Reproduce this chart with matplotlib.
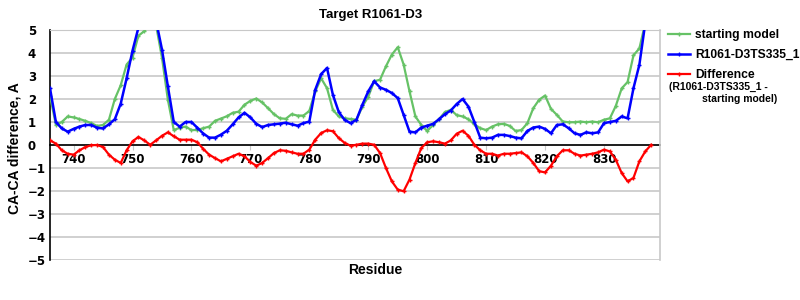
import numpy as np
import matplotlib
matplotlib.use("Agg")
import matplotlib.pyplot as plt

residues = list(range(736, 839))

starting_model = [
    2.14, 0.88, 1.0, 1.24, 1.2, 1.13, 1.05, 0.95, 0.83, 0.87,
    1.1, 2.0, 2.6, 3.5, 3.8, 4.75, 4.95, 5.3, 5.2, 3.8,
    1.97, 0.65, 0.75, 0.8, 0.65, 0.65, 0.73, 0.8, 1.05, 1.15,
    1.25, 1.4, 1.45, 1.75, 1.92, 2.02, 1.85, 1.6, 1.34, 1.16,
    1.14, 1.34, 1.28, 1.28, 1.48, 2.33, 2.9, 2.47, 1.53, 1.24,
    1.16, 1.13, 1.1, 1.67, 2.1, 2.77, 2.84, 3.42, 3.93, 4.25,
    3.5, 2.33, 1.24, 0.87, 0.61, 0.87, 1.12, 1.43, 1.53, 1.3,
    1.24, 1.12, 0.9, 0.73, 0.65, 0.8, 0.9, 0.92, 0.83, 0.61,
    0.65, 0.95, 1.6, 1.97, 2.15, 1.57, 1.31, 1.02, 0.99, 0.99,
    1.02, 0.99, 1.02, 0.99, 1.1, 1.16, 1.7, 2.46, 2.74, 3.9,
    4.2, 5.3, 5.6,
]

model_ts335 = [
    2.47, 1.0, 0.72, 0.58, 0.7, 0.8, 0.87, 0.87, 0.75, 0.72,
    0.9, 1.12, 1.8, 2.9, 4.1, 5.1, 5.15, 5.3, 5.4, 4.15,
    2.55, 1.0, 0.8, 1.0, 1.0, 0.75, 0.5, 0.32, 0.32, 0.45,
    0.62, 0.9, 1.2, 1.4, 1.2, 0.92, 0.78, 0.87, 0.9, 0.93,
    0.97, 0.9, 0.84, 0.95, 1.02, 2.4, 3.08, 3.35, 2.18, 1.43,
    1.09, 0.95, 1.1, 1.75, 2.33, 2.77, 2.5, 2.4, 2.26, 2.04,
    1.31, 0.58, 0.55, 0.76, 0.84, 0.92, 1.12, 1.34, 1.5, 1.78,
    2.0, 1.67, 1.0, 0.32, 0.29, 0.32, 0.44, 0.44, 0.39, 0.32,
    0.29, 0.61, 0.76, 0.8, 0.7, 0.51, 0.87, 0.9, 0.73, 0.51,
    0.44, 0.55, 0.51, 0.55, 0.95, 1.0, 1.05, 1.24, 1.16, 2.47,
    3.49, 5.3, 5.6,
]

difference = [
    0.2, 0.06, -0.23, -0.38, -0.42, -0.23, -0.09, -0.01, 0.0, -0.09,
    -0.42, -0.64, -0.78, -0.23, 0.16, 0.35, 0.2, 0.01, 0.2, 0.4,
    0.55, 0.38, 0.23, 0.23, 0.23, 0.12, -0.17, -0.42, -0.57, -0.71,
    -0.6, -0.49, -0.38, -0.49, -0.74, -0.9, -0.78, -0.57, -0.35, -0.23,
    -0.25, -0.32, -0.38, -0.38, -0.2, 0.23, 0.52, 0.64, 0.6, 0.3,
    0.09, -0.03, 0.01, 0.06, 0.06, 0.01, -0.35, -1.0, -1.58, -1.94,
    -2.01, -1.5, -0.78, -0.13, 0.12, 0.16, 0.12, 0.06, 0.2, 0.49,
    0.62, 0.4, 0.01, -0.23, -0.38, -0.38, -0.46, -0.38, -0.38, -0.35,
    -0.32, -0.49, -0.78, -1.14, -1.19, -0.9, -0.49, -0.23, -0.23, -0.38,
    -0.46, -0.42, -0.38, -0.32, -0.2, -0.28, -0.64, -1.22, -1.58, -1.43,
    -0.71, -0.28, 0.01,
]

x_ticks = [740, 750, 760, 770, 780, 790, 800, 810, 820, 830]
y_ticks = [-5, -4, -3, -2, -1, 0, 1, 2, 3, 4, 5]

GREEN = '#66c266'
BLUE = '#0000ff'
RED = '#ff0000'
GREY = '#c8c8c8'
LAB = 'Liberation Sans'

fig = plt.figure(figsize=(8, 3), dpi=100)
ax = fig.add_axes([50/800, 40/300, 610/800, 230/300])

ax.plot(residues, starting_model, color=GREEN, lw=1.6, marker='+', ms=3, mew=1,
        label='starting model', zorder=3)
ax.plot(residues, model_ts335, color=BLUE, lw=1.8, marker='+', ms=3, mew=1,
        label='R1061-D3TS335_1', zorder=4)
ax.plot(residues, difference, color=RED, lw=1.6, marker='+', ms=3, mew=1,
        label='Difference', zorder=4)

ax.set_xlim(736, 839.5)
ax.set_ylim(-5, 5)
ax.set_xticks(x_ticks)
ax.set_yticks(y_ticks)
ax.yaxis.grid(True, color=GREY, lw=1.2)
ax.set_axisbelow(True)

# x axis sits on the zero line
ax.spines['bottom'].set_position(('data', 0))
ax.spines['bottom'].set_color('black')
ax.spines['bottom'].set_linewidth(1.2)
ax.spines['bottom'].set_zorder(2)
ax.spines['left'].set_color('black')
ax.spines['left'].set_linewidth(1.2)
ax.spines['top'].set_color(GREY)
ax.spines['right'].set_color(GREY)
ax.spines['right'].set_linewidth(1.2)

ax.tick_params(axis='x', direction='out', length=3.5, color=GREY, pad=2.5,
               labelsize=8.5)
ax.tick_params(axis='y', length=0, pad=16, labelsize=8.5)
for lbl in ax.get_xticklabels() + ax.get_yticklabels():
    lbl.set_fontweight('bold')
    lbl.set_family('DejaVu Sans')
for lbl in ax.get_yticklabels():
    lbl.set_horizontalalignment('left')

fig.text(371/800, 1 - 15/300, 'Target R1061-D3', ha='center', va='center',
         fontsize=9.5, fontweight='bold', family=LAB)
fig.text(375/800, 1 - 270/300, 'Residue', ha='center', va='center',
         fontsize=10, fontweight='bold', family=LAB)
fig.text(15/800, 1 - 148/300, 'CA-CA difference, A', ha='center', va='center',
         rotation=90, fontsize=10, fontweight='bold', family=LAB)

leg = ax.legend(loc='upper left', bbox_to_anchor=(668/800, 1 - 29/300),
                bbox_transform=fig.transFigure, frameon=False,
                prop={'family': LAB, 'weight': 'bold', 'size': 8.7},
                handlelength=1.8, handletextpad=0.45, labelspacing=0.68,
                borderpad=0, borderaxespad=0)
fig.text(669/800, 1 - 87/300, '(R1061-D3TS335_1 -', ha='left', va='center',
         fontsize=7.5, fontweight='bold', family=LAB)
fig.text(702/800, 1 - 98.5/300, 'starting model)', ha='left', va='center',
         fontsize=7.5, fontweight='bold', family=LAB)

fig.savefig('out.png', dpi=100)
